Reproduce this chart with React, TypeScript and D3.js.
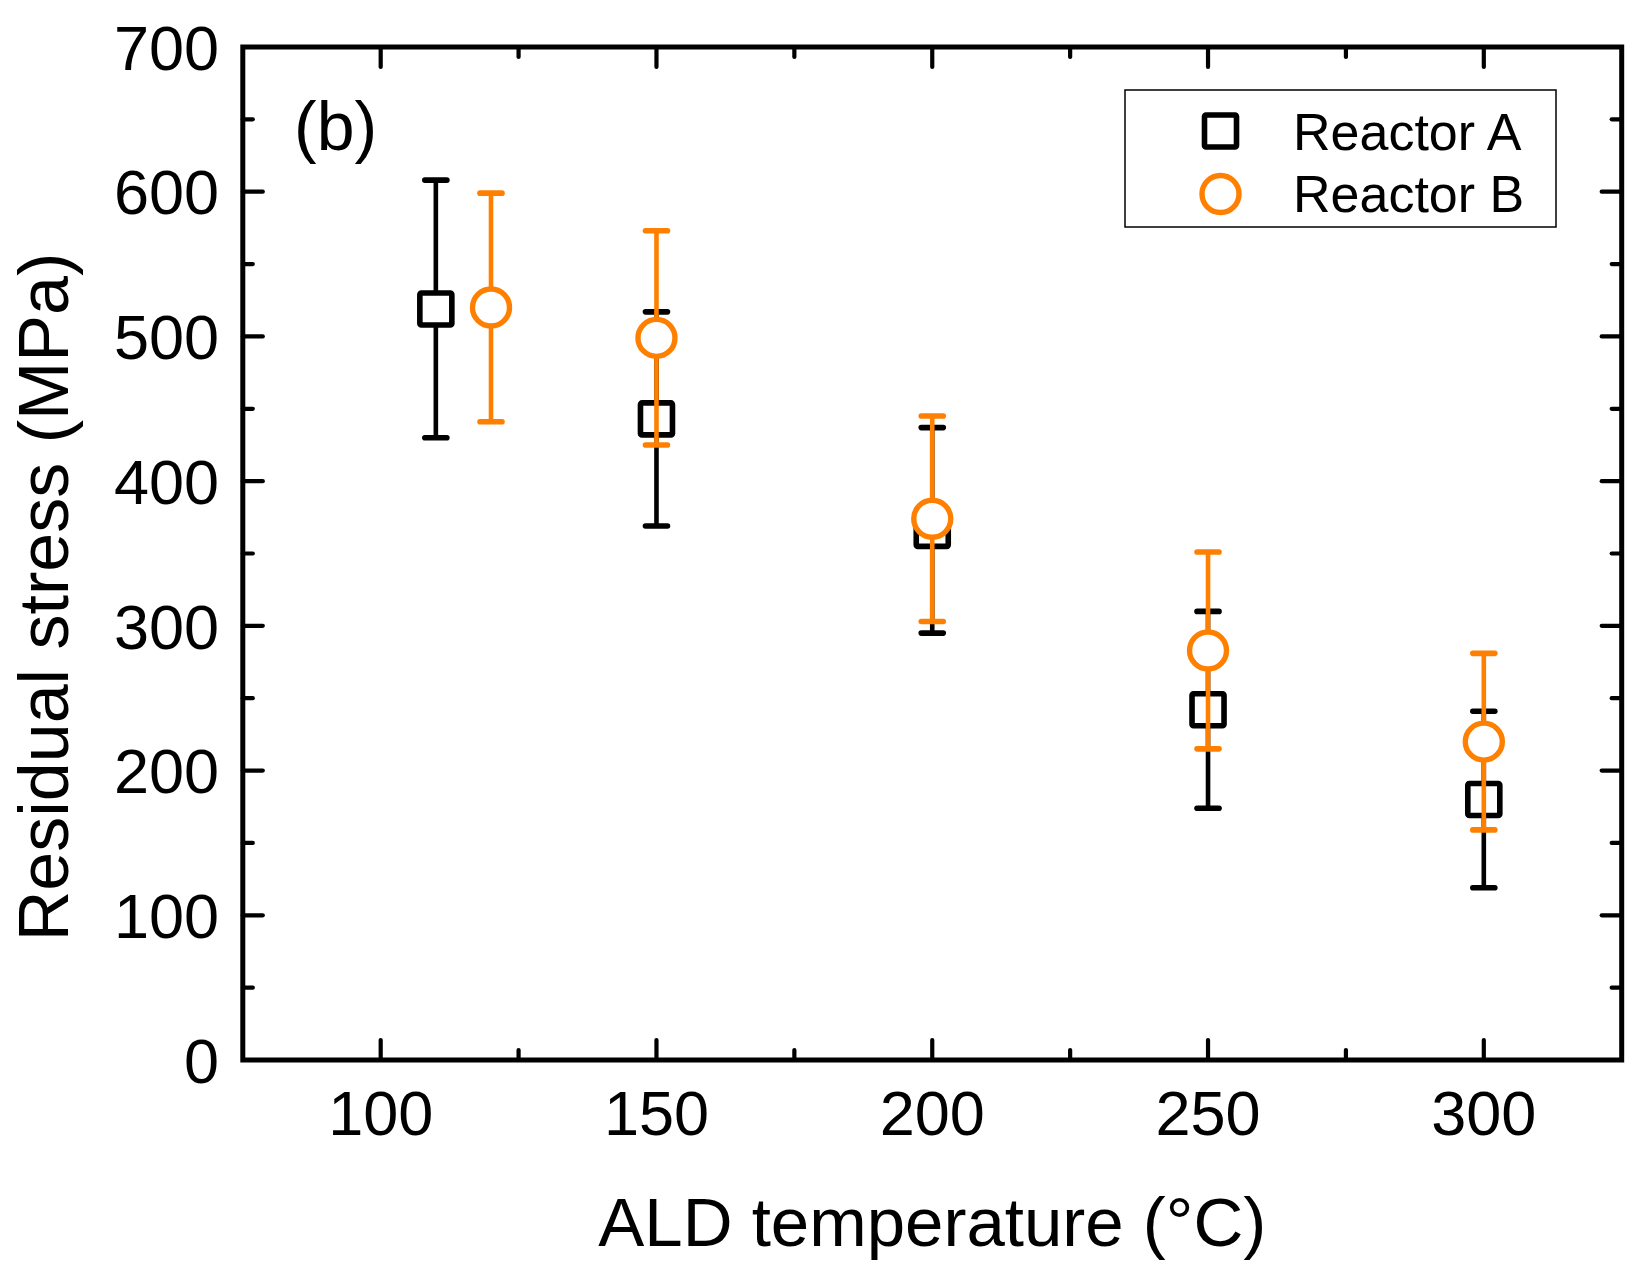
import React, { useEffect, useRef } from 'react';
import * as d3 from 'd3';

// Reactor A (squares)
const tempsA = [110, 150, 200, 250, 300];
const stressA = [519, 443, 366, 242, 180];
const errA = [89, 74, 71, 68, 61];

// Reactor B (circles)
const tempsB = [120, 150, 200, 250, 300];
const stressB = [520, 499, 374, 283, 220];
const errB = [79, 74, 71, 68, 61];

const xMajor = [100, 150, 200, 250, 300];
const xMinor = [125, 175, 225, 275];
const yMajor = [0, 100, 200, 300, 400, 500, 600, 700];
const yMinor = [50, 150, 250, 350, 450, 550, 650];

const ORANGE = '#ff8000';
const FONT = '"Liberation Sans", Arial, sans-serif';

const App = () => {
  const svgRef = useRef<SVGSVGElement>(null);

  useEffect(() => {
    const svg = d3.select(svgRef.current);
    svg.selectAll('*').remove();

    const width = 1632, height = 1264;
    const left = 242.8, right = 1621.7, top = 47, bottom = 1060;
    svg.attr('width', width).attr('height', height);

    const x = d3.scaleLinear().domain([75, 325]).range([left, right]);
    const y = d3.scaleLinear().domain([0, 700]).range([bottom, top]);

    // ticks on all four sides, pointing inward
    const ticks = svg.append('g').attr('stroke', '#000').attr('stroke-width', 4.2).attr('stroke-linecap', 'round');
    const addX = (vals: number[], len: number) => {
      vals.forEach(v => {
        ticks.append('line').attr('x1', x(v)).attr('x2', x(v)).attr('y1', bottom).attr('y2', bottom - len);
        ticks.append('line').attr('x1', x(v)).attr('x2', x(v)).attr('y1', top).attr('y2', top + len);
      });
    };
    const addY = (vals: number[], len: number) => {
      vals.forEach(v => {
        ticks.append('line').attr('y1', y(v)).attr('y2', y(v)).attr('x1', left).attr('x2', left + len);
        ticks.append('line').attr('y1', y(v)).attr('y2', y(v)).attr('x1', right).attr('x2', right - len);
      });
    };
    addX(xMajor, 20);
    addX(xMinor, 10);
    addY(yMajor.slice(1, -1), 20);
    addY(yMinor, 10);

    svg.append('rect')
      .attr('x', left).attr('y', top)
      .attr('width', right - left).attr('height', bottom - top)
      .attr('fill', 'none').attr('stroke', '#000').attr('stroke-width', 5);

    // tick labels
    svg.append('g').selectAll('text')
      .data(xMajor).enter().append('text')
      .attr('x', d => x(d)).attr('y', 1135)
      .attr('text-anchor', 'middle')
      .attr('font-family', FONT).attr('font-size', 63)
      .text(d => d);

    svg.append('g').selectAll('text')
      .data(yMajor).enter().append('text')
      .attr('x', 219).attr('y', d => y(d))
      .attr('dy', '0.36em')
      .attr('text-anchor', 'end')
      .attr('font-family', FONT).attr('font-size', 63)
      .text(d => d);

    // axis titles
    svg.append('text')
      .attr('x', (left + right) / 2).attr('y', 1246)
      .attr('text-anchor', 'middle')
      .attr('font-family', FONT).attr('font-size', 69)
      .text('ALD temperature (°C)');

    svg.append('text')
      .attr('transform', 'translate(68, 597) rotate(-90)')
      .attr('text-anchor', 'middle')
      .attr('font-family', FONT).attr('font-size', 70)
      .text('Residual stress (MPa)');

    svg.append('text')
      .attr('x', 294).attr('y', 150)
      .attr('font-family', FONT).attr('font-size', 68)
      .text('(b)');

    const capW = 11;
    const drawBars = (temps: number[], vals: number[], errs: number[], color: string) => {
      const g = svg.append('g').attr('stroke', color).attr('stroke-linecap', 'round');
      temps.forEach((t, i) => {
        const cx = x(t);
        const lo = y(vals[i] - errs[i]);
        const hi = y(vals[i] + errs[i]);
        g.append('line').attr('x1', cx).attr('x2', cx).attr('y1', lo).attr('y2', hi).attr('stroke-width', 4.6).attr('stroke-linecap', 'butt');
        g.append('line').attr('x1', cx - capW).attr('x2', cx + capW).attr('y1', lo).attr('y2', lo).attr('stroke-width', 5.6);
        g.append('line').attr('x1', cx - capW).attr('x2', cx + capW).attr('y1', hi).attr('y2', hi).attr('stroke-width', 5.6);
      });
    };

    const sq = 32;
    const drawSquares = (g: any, pts: [number, number][]) => {
      g.selectAll('rect.m')
        .data(pts).enter().append('rect')
        .attr('x', (d: [number, number]) => d[0] - sq / 2)
        .attr('y', (d: [number, number]) => d[1] - sq / 2)
        .attr('width', sq).attr('height', sq).attr('rx', 1.5)
        .attr('fill', '#fff').attr('stroke', '#000').attr('stroke-width', 5.6);
    };
    const drawCircles = (g: any, pts: [number, number][]) => {
      g.selectAll('circle.m')
        .data(pts).enter().append('circle')
        .attr('cx', (d: [number, number]) => d[0])
        .attr('cy', (d: [number, number]) => d[1])
        .attr('r', 18.5)
        .attr('fill', '#fff').attr('stroke', ORANGE).attr('stroke-width', 5.4);
    };

    drawBars(tempsA, stressA, errA, '#000');
    drawSquares(svg.append('g'), tempsA.map((t, i) => [x(t), y(stressA[i])] as [number, number]));
    drawBars(tempsB, stressB, errB, ORANGE);
    drawCircles(svg.append('g'), tempsB.map((t, i) => [x(t), y(stressB[i])] as [number, number]));

    // legend
    const lg = svg.append('g');
    lg.append('rect')
      .attr('x', 1125).attr('y', 90).attr('width', 431).attr('height', 137)
      .attr('fill', '#fff').attr('stroke', '#000').attr('stroke-width', 1.5);
    drawSquares(lg, [[1220.5, 131]]);
    drawCircles(lg, [[1220.5, 194]]);
    lg.append('text').attr('x', 1293).attr('y', 150)
      .attr('font-family', FONT).attr('font-size', 52).text('Reactor A');
    lg.append('text').attr('x', 1293).attr('y', 212)
      .attr('font-family', FONT).attr('font-size', 52).text('Reactor B');
  }, []);

  return (
    <div style={{ position: 'absolute', left: 0, top: 0, width: '1632px', height: '1264px', background: '#fff' }}>
      <svg ref={svgRef}></svg>
    </div>
  );
};

export default App;
